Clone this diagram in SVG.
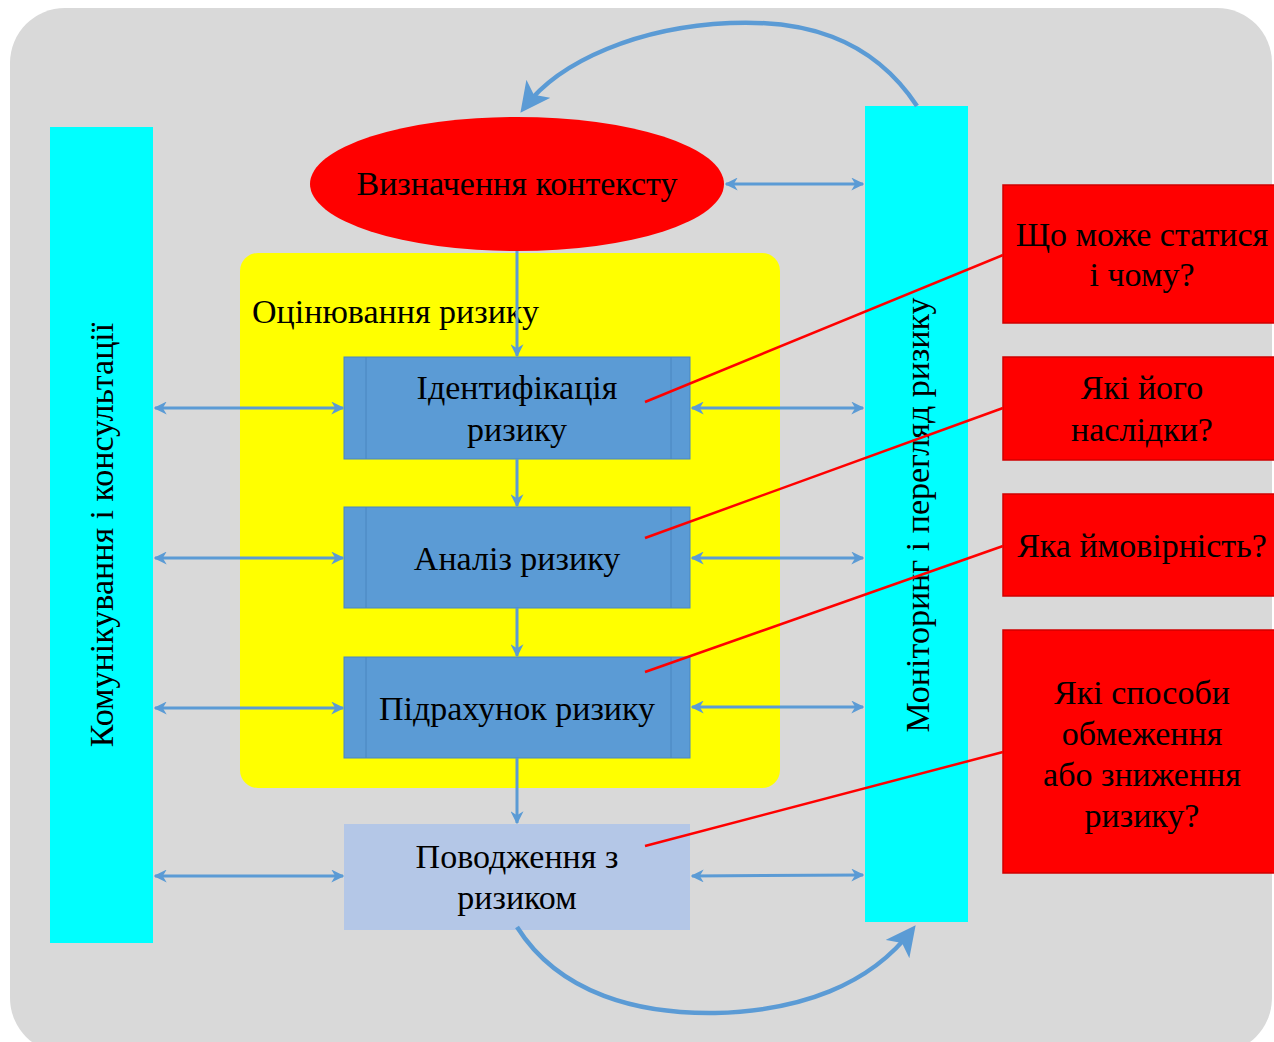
<svg xmlns="http://www.w3.org/2000/svg" width="1274" height="1042" viewBox="0 0 1274 1042">
  <defs>
    <marker id="ah" viewBox="0 0 10 10" refX="9" refY="5" markerWidth="13" markerHeight="13" orient="auto-start-reverse" markerUnits="userSpaceOnUse">
      <path d="M0,0 L10,5 L0,10 L3,5 Z" fill="#5b9bd5"/>
    </marker>
    <marker id="ahBig" viewBox="0 0 10 10" refX="8" refY="5" markerWidth="30" markerHeight="30" orient="auto" markerUnits="userSpaceOnUse">
      <path d="M0,0 L10,5 L0,10 L2.5,5 Z" fill="#5b9bd5"/>
    </marker>
  </defs>
  <style>
    .t { font-family: "Liberation Serif", "Times New Roman", serif; font-size: 34px; fill: #000; }
    .c { text-anchor: middle; }
    .bar { fill: #00ffff; }
    .step { fill: #5b9bd5; stroke: #4a86c0; stroke-width: 1; }
    .inner { stroke: #4a86c0; stroke-width: 1; fill: none; }
    .ask { fill: #ff0000; stroke: #d00000; stroke-width: 1.5; }
    .link { stroke: #5b9bd5; stroke-width: 3; fill: none; }
    .loop { stroke: #5b9bd5; stroke-width: 4.5; fill: none; }
    .callout { stroke: #ff0000; stroke-width: 2.5; fill: none; }
  </style>

  <!-- canvas -->
  <rect x="10" y="8" width="1262" height="1045" rx="55" fill="#d9d9d9"/>

  <!-- assessment area -->
  <g id="assessment">
    <rect x="240" y="253" width="540" height="535" rx="18" fill="#ffff00"/>
    <text class="t" x="252" y="323">Оцінювання ризику</text>
  </g>

  <g id="communication">
    <rect class="bar" x="50" y="127" width="103" height="816"/>
    <text class="t c" transform="translate(113,535) rotate(-90)">Комунікування і консультації</text>
  </g>

  <g id="monitoring">
    <rect class="bar" x="865" y="106" width="103" height="816"/>
    <text class="t c" transform="translate(929,515) rotate(-90)">Моніторинг і перегляд ризику</text>
  </g>

  <g id="context">
    <ellipse cx="517" cy="184" rx="207" ry="67" fill="#ff0000"/>
    <text class="t c" x="517" y="195">Визначення контексту</text>
  </g>

  <g id="identification">
    <rect class="step" x="344" y="357" width="346" height="102"/>
    <path class="inner" d="M366,357 V459 M671,357 V459"/>
    <text class="t c" x="517" y="399">Ідентифікація</text>
    <text class="t c" x="517" y="441">ризику</text>
  </g>

  <g id="analysis">
    <rect class="step" x="344" y="507" width="346" height="101"/>
    <path class="inner" d="M366,507 V608 M671,507 V608"/>
    <text class="t c" x="517" y="570">Аналіз ризику</text>
  </g>

  <g id="evaluation">
    <rect class="step" x="344" y="657" width="346" height="101"/>
    <path class="inner" d="M366,657 V758 M671,657 V758"/>
    <text class="t c" x="517" y="720">Підрахунок ризику</text>
  </g>

  <g id="treatment">
    <rect x="344" y="824" width="346" height="106" fill="#b4c7e7"/>
    <text class="t c" x="517" y="868">Поводження з</text>
    <text class="t c" x="517" y="909">ризиком</text>
  </g>

  <g id="q-what">
    <rect class="ask" x="1003" y="185" width="280" height="138"/>
    <text class="t c" x="1142" y="246">Що може статися</text>
    <text class="t c" x="1142" y="286">і чому?</text>
  </g>

  <g id="q-consequences">
    <rect class="ask" x="1003" y="357" width="280" height="103"/>
    <text class="t c" x="1142" y="399">Які його</text>
    <text class="t c" x="1142" y="441">наслідки?</text>
  </g>

  <g id="q-likelihood">
    <rect class="ask" x="1003" y="494" width="280" height="102"/>
    <text class="t c" x="1142" y="557">Яка ймовірність?</text>
  </g>

  <g id="q-mitigation">
    <rect class="ask" x="1003" y="630" width="280" height="243"/>
    <text class="t c" x="1142" y="704">Які способи</text>
    <text class="t c" x="1142" y="745">обмеження</text>
    <text class="t c" x="1142" y="786">або зниження</text>
    <text class="t c" x="1142" y="827">ризику?</text>
  </g>

  <g id="connectors">
    <!-- main flow -->
    <line class="link" x1="517" y1="251" x2="517" y2="356" marker-end="url(#ah)"/>
    <line class="link" x1="517" y1="459" x2="517" y2="506" marker-end="url(#ah)"/>
    <line class="link" x1="517" y1="608" x2="517" y2="656" marker-end="url(#ah)"/>
    <line class="link" x1="517" y1="758" x2="517" y2="823" marker-end="url(#ah)"/>

    <!-- communication links -->
    <line class="link" x1="155" y1="408" x2="343" y2="408" marker-start="url(#ah)" marker-end="url(#ah)"/>
    <line class="link" x1="155" y1="558" x2="343" y2="558" marker-start="url(#ah)" marker-end="url(#ah)"/>
    <line class="link" x1="155" y1="708" x2="343" y2="708" marker-start="url(#ah)" marker-end="url(#ah)"/>
    <line class="link" x1="155" y1="876" x2="343" y2="876" marker-start="url(#ah)" marker-end="url(#ah)"/>

    <!-- monitoring links -->
    <line class="link" x1="726" y1="184" x2="863" y2="184" marker-start="url(#ah)" marker-end="url(#ah)"/>
    <line class="link" x1="692" y1="408" x2="863" y2="408" marker-start="url(#ah)" marker-end="url(#ah)"/>
    <line class="link" x1="692" y1="558" x2="863" y2="558" marker-start="url(#ah)" marker-end="url(#ah)"/>
    <line class="link" x1="692" y1="707" x2="863" y2="707" marker-start="url(#ah)" marker-end="url(#ah)"/>
    <line class="link" x1="692" y1="876" x2="863" y2="875" marker-start="url(#ah)" marker-end="url(#ah)"/>

    <!-- feedback loops -->
    <path class="loop" d="M917,106 C870,35 800,20 730,23 C640,27 560,60 524,108" marker-end="url(#ahBig)"/>
    <path class="loop" d="M517,927 C560,995 640,1014 715,1013 C800,1011 870,985 912,930" marker-end="url(#ahBig)"/>

    <!-- question callouts -->
    <line class="callout" x1="1003" y1="255" x2="645" y2="402"/>
    <line class="callout" x1="1003" y1="408" x2="645" y2="538"/>
    <line class="callout" x1="1003" y1="546" x2="645" y2="672"/>
    <line class="callout" x1="1003" y1="752" x2="645" y2="846"/>
  </g>
</svg>
